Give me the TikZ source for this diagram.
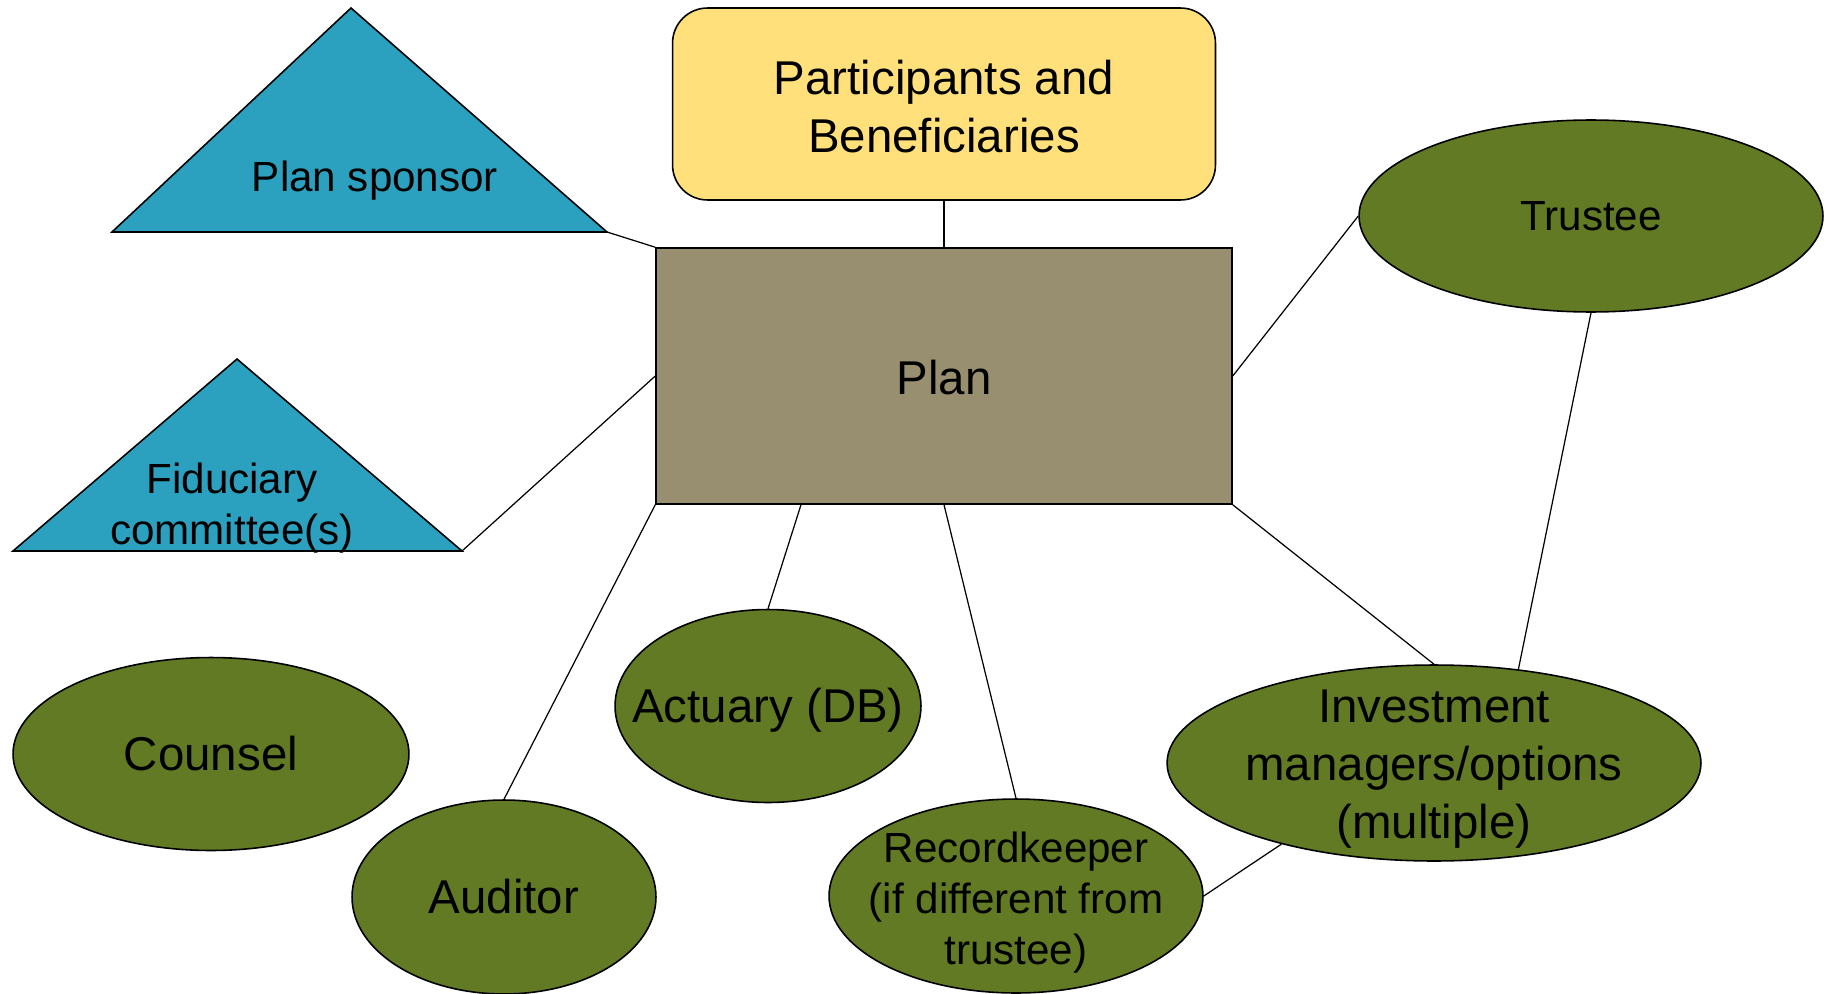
\documentclass[tikz,border=0pt]{standalone}
\usepackage{fontspec}
\setmainfont{Liberation Sans}
\usetikzlibrary{shapes.geometric}

\definecolor{sponsorblue}{HTML}{2CA1BF}
\definecolor{peopleyellow}{HTML}{FFE07A}
\definecolor{plangrey}{HTML}{988F70}
\definecolor{partygreen}{HTML}{617A23}

\tikzstyle{bigtext} = [align=center, font=\fontsize{27}{33}\selectfont]
\tikzstyle{roletext} = [align=center, font=\fontsize{24}{29}\selectfont]
\tikzstyle{people} = [rectangle, rounded corners=0.7cm, minimum width=10.86cm, minimum height=3.84cm, draw=black, line width=0.9pt, fill=peopleyellow]
\tikzstyle{planbox} = [rectangle, minimum width=11.52cm, minimum height=5.12cm, draw=black, line width=0.9pt, fill=plangrey]
\tikzstyle{sponsor} = [draw=black, line width=0.9pt, fill=sponsorblue]
\tikzstyle{party} = [ellipse, inner sep=0pt, draw=black, line width=0.9pt, fill=partygreen]
\tikzstyle{link} = [line width=0.7pt]

\begin{document}
\begin{tikzpicture}[x=0.02cm, y=-0.02cm]
          \useasboundingbox (0,0) rectangle (1834,993);

          \node (part) [people] at (944,104) {}; %
          \node (partTxt) [bigtext, yshift=-0.05cm] at (part) {Participants and\\Beneficiaries}; %
          \node (plan) [planbox] at (944,376) {}; %
          \node (planTxt) [bigtext, yshift=-0.04cm] at (plan) {Plan}; %

          %% Sponsor and committee
          \draw [sponsor] (112,232) -- (351,8) -- (607,232) coordinate (sponsorR) -- cycle; %
          \node (sponsorTxt) [roletext] at (375,181) {Plan sponsor}; %
          \draw [sponsor] (13,551) -- (237,359) -- (462,551) coordinate (fiducR) -- cycle; %
          \node (fiducTxt) [roletext] at (232,508) {Fiduciary\\committee(s)}; %

          %% Service providers
          \node (trustee) [party, minimum width=9.28cm, minimum height=3.84cm] at (1591,216) {}; %
          \node (trusteeTxt) [roletext] at (trustee) {Trustee}; %
          \node (counsel) [party, minimum width=7.92cm, minimum height=3.86cm] at (211,754) {}; %
          \node (counselTxt) [bigtext] at (counsel) {Counsel}; %
          \node (auditor) [party, minimum width=6.08cm, minimum height=3.88cm] at (504,897) {}; %
          \node (auditorTxt) [bigtext] at (auditor) {Auditor}; %
          \node (actuary) [party, minimum width=6.12cm, minimum height=3.86cm] at (768,706) {}; %
          \node (actuaryTxt) [bigtext, yshift=-0.09cm] at (actuary) {Actuary (DB)}; %
          \node (record) [party, minimum width=7.48cm, minimum height=3.88cm] at (1016,896) {}; %
          \node (recordTxt) [roletext, yshift=-0.13cm] at (record) {Recordkeeper\\(if different from\\trustee)}; %
          \node (invest) [party, minimum width=10.68cm, minimum height=3.92cm] at (1434,763) {}; %
          \node (investTxt) [bigtext, yshift=-0.12cm] at (invest) {Investment\\managers/options\\(multiple)}; %

          %% Connections
          \draw [link] (sponsorR) -- (plan.north west); %
          \draw [link] (fiducR)   -- (plan.west); %
          \draw [link] (part)     -- (plan); %
          \draw [link] (plan.east) -- (trustee.west); %
          \draw [link] (trustee.south) -- (invest.48); %
          \draw [link] (plan.south east) -- (invest.north); %
          \draw [link] (plan.south) -- (record.north); %
          \draw [link] (plan.222) -- (actuary.north); %
          \draw [link] (plan.south west) -- (auditor.north); %
          \draw [link] (record.east) -- (invest.208); %
        \end{tikzpicture}
\end{document}
